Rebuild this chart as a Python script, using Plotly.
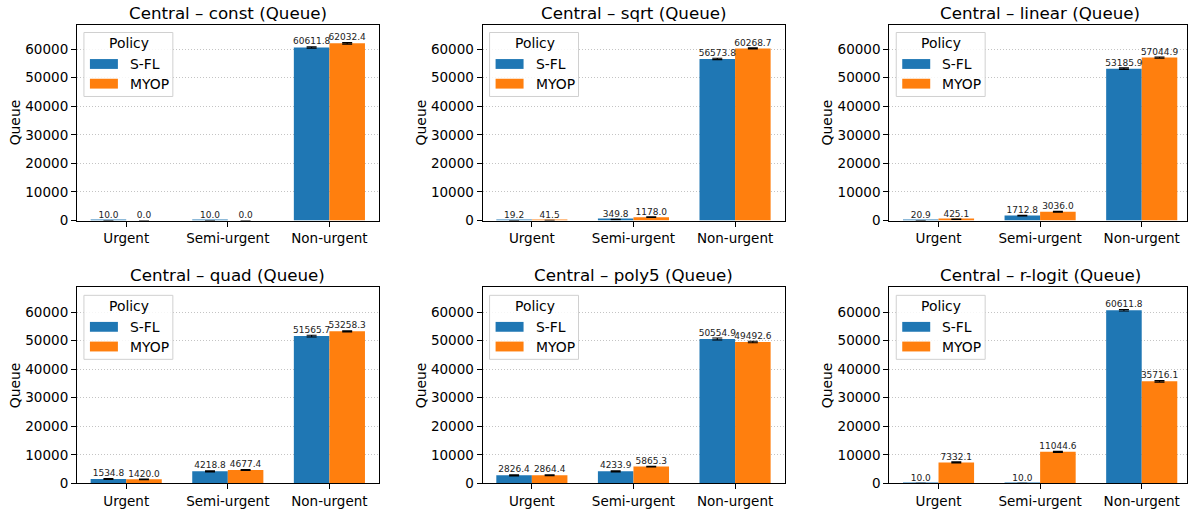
import plotly.graph_objects as go

# ---------------- data ----------------
categories = ["Urgent", "Semi-urgent", "Non-urgent"]
policies = ["S-FL", "MYOP"]
panel_names = ["const", "sqrt", "linear", "quad", "poly5", "r-logit"]

sfl_const = [10.0, 10.0, 60611.8]
myop_const = [0.0, 0.0, 62032.4]
sfl_sqrt = [19.2, 349.8, 56573.8]
myop_sqrt = [41.5, 1178.0, 60268.7]
sfl_linear = [20.9, 1712.8, 53185.9]
myop_linear = [425.1, 3036.0, 57044.9]
sfl_quad = [1534.8, 4218.8, 51565.7]
myop_quad = [1420.0, 4677.4, 53258.3]
sfl_poly5 = [2826.4, 4233.9, 50554.9]
myop_poly5 = [2864.4, 5865.3, 49492.6]
sfl_rlogit = [10.0, 10.0, 60611.8]
myop_rlogit = [7332.1, 11044.6, 35716.1]

# error bar half-lengths (estimated)
sfl_const_err = [0.0, 0.0, 250.0]
myop_const_err = [0.0, 0.0, 250.0]
sfl_sqrt_err = [5.0, 60.0, 250.0]
myop_sqrt_err = [10.0, 120.0, 200.0]
sfl_linear_err = [5.0, 150.0, 250.0]
myop_linear_err = [60.0, 150.0, 200.0]
sfl_quad_err = [150.0, 200.0, 300.0]
myop_quad_err = [100.0, 150.0, 200.0]
sfl_poly5_err = [200.0, 200.0, 350.0]
myop_poly5_err = [150.0, 150.0, 250.0]
sfl_rlogit_err = [0.0, 0.0, 250.0]
myop_rlogit_err = [200.0, 200.0, 250.0]

sfl_values = [sfl_const, sfl_sqrt, sfl_linear, sfl_quad, sfl_poly5, sfl_rlogit]
myop_values = [myop_const, myop_sqrt, myop_linear, myop_quad, myop_poly5, myop_rlogit]
sfl_errors = [sfl_const_err, sfl_sqrt_err, sfl_linear_err, sfl_quad_err, sfl_poly5_err, sfl_rlogit_err]
myop_errors = [myop_const_err, myop_sqrt_err, myop_linear_err, myop_quad_err, myop_poly5_err, myop_rlogit_err]

y_ticks = [0, 10000, 20000, 30000, 40000, 50000, 60000]

# ---------------- style / layout ----------------
FONT = "DejaVu Sans"
COLORS = ["#1f77b4", "#ff7f0e"]
BAR_W = 0.35
W, H = 1188, 514

# panel pixel boxes in screen pixels (left, right, top, bottom)
px_cols = [(77, 379), (483, 786), (890, 1188)]
px_rows = [(25, 224), (292, 491)]
PX_PER_UNIT = 302 / 2.97
Y_MAX = 68600

fig = go.Figure()
shapes = []
annotations = []

for k in range(6):
    r, c = divmod(k, 3)
    n = k + 1
    sfx = "" if n == 1 else str(n)
    xa, ya = "x" + sfx, "y" + sfx
    left, right = px_cols[c]
    top, bottom = px_rows[r]
    pw, ph = right - left, bottom - top

    xpos = list(range(len(categories)))
    series = [(sfl_values[k], sfl_errors[k]), (myop_values[k], myop_errors[k])]
    for j, (vals, errs) in enumerate(series):
        off = (-0.5 + j) * BAR_W
        xs = [x + off for x in xpos]
        fig.add_trace(go.Bar(
            x=xs, y=vals, width=BAR_W, name=policies[j],
            marker=dict(color=COLORS[j], line=dict(width=0)),
            error_y=dict(type="data", array=errs, visible=True,
                         color="black", thickness=1.1, width=5),
            showlegend=False, xaxis=xa, yaxis=ya,
        ))
        fig.add_trace(go.Scatter(
            x=xs, y=[v + e for v, e in zip(vals, errs)], mode="text",
            text=[f"{v:.1f}" for v in vals], textposition="top center",
            textfont=dict(family=FONT, size=9, color="#222222"),
            showlegend=False, hoverinfo="skip", xaxis=xa, yaxis=ya,
        ))

    xrange_max = -0.485 + pw / PX_PER_UNIT
    axis_common = dict(
        showline=True, linecolor="black", linewidth=1, mirror=True,
        ticks="outside", ticklen=5, tickwidth=1, tickcolor="black",
        tickfont=dict(family=FONT, size=13.5, color="black"),
        zeroline=False,
    )
    fig.update_layout(**{
        ("xaxis" + sfx): dict(
            domain=[left / W, min(right / W, 1.0)], anchor=ya,
            range=[-0.485, xrange_max], tickvals=xpos, ticktext=categories,
            showgrid=False, **axis_common),
        ("yaxis" + sfx): dict(
            domain=[1 - bottom / H, 1 - top / H], anchor=xa,
            range=[0, Y_MAX], tickvals=y_ticks, tickformat="d",
            showgrid=True, gridcolor="#c4c4c4", griddash="1px,2px", gridwidth=0.8,
            title=dict(text="Queue", font=dict(family=FONT, size=13.9, color="black"),
                       standoff=1),
            **axis_common),
    })

    xd = xa + " domain"
    yd = ya + " domain"

    def fx(p):
        return p / pw

    def fy(p):
        return 1 - p / ph

    # title
    annotations.append(dict(
        text=f"Central – {panel_names[k]} (Queue)", xref=xd, yref=yd,
        x=0.5 if c < 2 else fx(151), y=1, xanchor="center", yanchor="bottom", yshift=0,
        showarrow=False, font=dict(family=FONT, size=16.7, color="black"),
    ))
    # legend box
    shapes.append(dict(type="rect", xref=xd, yref=yd,
                       x0=fx(7), x1=fx(96), y0=fy(73), y1=fy(8),
                       line=dict(color="#d0d0d0", width=1),
                       fillcolor="rgba(255,255,255,0.85)", layer="above"))
    annotations.append(dict(text="Policy", xref=xd, yref=yd, x=fx(52), y=fy(19),
                            xanchor="center", yanchor="middle", showarrow=False,
                            font=dict(family=FONT, size=13.9, color="black")))
    for j, name in enumerate(policies):
        ytop = 35 + 20 * j
        shapes.append(dict(type="rect", xref=xd, yref=yd,
                           x0=fx(13), x1=fx(41), y0=fy(ytop + 10), y1=fy(ytop),
                           line=dict(width=0), fillcolor=COLORS[j], layer="above"))
        annotations.append(dict(text=name, xref=xd, yref=yd, x=fx(51), y=fy(ytop + 5),
                                xanchor="left", yanchor="middle", showarrow=False,
                                font=dict(family=FONT, size=13.9, color="black")))

fig.update_layout(
    width=W, height=H,
    margin=dict(l=0, r=0, t=0, b=0),
    paper_bgcolor="white", plot_bgcolor="white",
    barmode="overlay",
    font=dict(family=FONT, color="black"),
    shapes=shapes, annotations=annotations,
    showlegend=False,
)

fig.write_html("out.html", config={"displayModeBar": False},
               post_script="document.body.style.margin='0px';")
